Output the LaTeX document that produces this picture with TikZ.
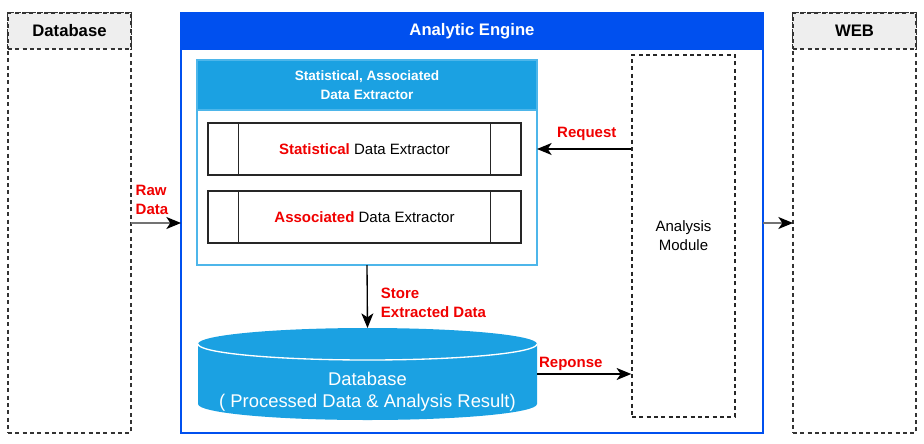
\documentclass[tikz,border=0pt]{standalone}
\usepackage{fontspec}
\setmainfont{Liberation Sans}
\usetikzlibrary{arrows.meta,calc,positioning}

\definecolor{engineblue}{HTML}{0050EF}
\definecolor{extractblue}{HTML}{1BA1E2}
\definecolor{extractline}{HTML}{4DB6EA}
\definecolor{labelred}{HTML}{F00000}
\definecolor{headgray}{HTML}{EEEEEE}
\definecolor{lanegray}{HTML}{333333}

\tikzset{every picture/.style={line width=0.75pt}}
\tikzset{
  lanebox/.style={draw=lanegray, dash pattern=on 3pt off 2.5pt, line width=1.1pt, minimum width=92.25pt, minimum height=315pt, inner sep=0pt, outer sep=0pt},
  lanehead/.style={lanebox, fill=headgray, minimum height=27pt, anchor=north, font=\bfseries\fontsize{12.5}{15}\selectfont},
  procbox/.style={draw=black!85, line width=1pt, minimum width=234.75pt, minimum height=39pt, inner sep=0pt, font=\fontsize{11.25}{13.5}\selectfont},
  redlabel/.style={text=labelred, font=\bfseries\fontsize{11.25}{14.25}\selectfont, align=left, inner sep=0.75pt},
  flow/.style={-{Stealth[length=11pt,width=9pt,inset=3pt]}, line width=1pt},
  greyflow/.style={flow, draw=black!55, -{Stealth[length=11pt,width=9pt,inset=3pt,black]}},
}

\begin{document}
\begin{tikzpicture}[x=0.75pt,y=0.75pt,yscale=-1,xscale=1]
\useasboundingbox (0,0) rectangle (924,443);

% Lanes
\node (dblane) [lanebox] at (69.5,223) {};
\node (dbhead) [lanehead] at (dblane.north) {Database};
\node (weblane) [lanebox] at (854.5,223) {};
\node (webhead) [lanehead] at (weblane.north) {WEB};

% Analytic Engine
\node (engine) [draw=engineblue, line width=1.5pt, minimum width=436.5pt, minimum height=315pt, inner sep=0pt, outer sep=0pt] at (472,223) {};
\node (enginehead) [draw=engineblue, fill=engineblue, line width=1.5pt, minimum width=436.5pt, minimum height=27pt, anchor=north, outer sep=0pt, text=white, font=\bfseries\fontsize{12.5}{15}\selectfont] at (engine.north) {Analytic Engine};

% Extractor container
\node (extractor) [draw=extractline, line width=1pt, minimum width=255pt, minimum height=153.75pt, inner sep=0pt, outer sep=0pt] at (367,162.5) {};
\node (extracthead) [draw=extractline, fill=extractblue, line width=1pt, minimum width=255pt, minimum height=37.5pt, anchor=north, outer sep=0pt, text=white, align=center, font=\bfseries\fontsize{10.2}{14}\selectfont] at (extractor.north) {Statistical, Associated\\Data Extractor};

% Process boxes
\node (stat) [procbox] at (364.5,149) {\textcolor{labelred}{\bfseries Statistical} Data Extractor};
\node (assoc) [procbox] at (364.5,217) {\textcolor{labelred}{\bfseries Associated} Data Extractor};
\foreach \p in {stat,assoc}{
  \draw [draw=black!85, line width=1pt] ($(\p.north west)+(31,0)$) -- ($(\p.south west)+(31,0)$);
  \draw [draw=black!85, line width=1pt] ($(\p.north east)+(-31,0)$) -- ($(\p.south east)+(-31,0)$);
}

% Analysis Module
\node (analysis) [draw=black!85, dash pattern=on 3pt off 2.5pt, line width=1.1pt, minimum width=77.25pt, minimum height=271.5pt, align=center, font=\fontsize{11.25}{14.25}\selectfont] at (683.5,236) {Analysis\\Module};

% Database cylinder
\node (db) [minimum width=254.25pt, minimum height=69pt, inner sep=0pt, outer sep=0pt] at (367.5,374) {};
\fill [extractblue] ($(db.north west)+(0,16)$) -- ($(db.south west)+(0,-16)$) arc [start angle=180, end angle=0, x radius=169.5, y radius=16] -- ($(db.north east)+(0,16)$) arc [start angle=0, end angle=-180, x radius=169.5, y radius=16] -- cycle;
\draw [white, line width=1pt] ($(db.north west)+(0,16)$) arc [start angle=180, end angle=0, x radius=169.5, y radius=16];
\node (dbtext) [text=white, align=center, font=\fontsize{13.8}{16.5}\selectfont] at (367.5,392) {Database\\( Processed Data \& Analysis Result)};

% Connectors
\draw [greyflow] (dblane.east) -- node [redlabel, above=5pt, xshift=-3pt] {Raw\\Data} (engine.west);
\draw [greyflow] (engine.east) -- (weblane.west);
\draw [flow] (analysis.west |- stat.east) -- node [redlabel, above=5pt, xshift=2pt] {Request} (extractor.east |- stat.east);
\draw [flow] (extractor.south) -- node [redlabel, anchor=west, xshift=9pt, yshift=-5pt] {Store\\Extracted Data} (db.north);
\draw [flow] (db.east) -- node [redlabel, above=1pt, xshift=-10pt] {Reponse} (analysis.west |- db.east);

\end{tikzpicture}
\end{document}
